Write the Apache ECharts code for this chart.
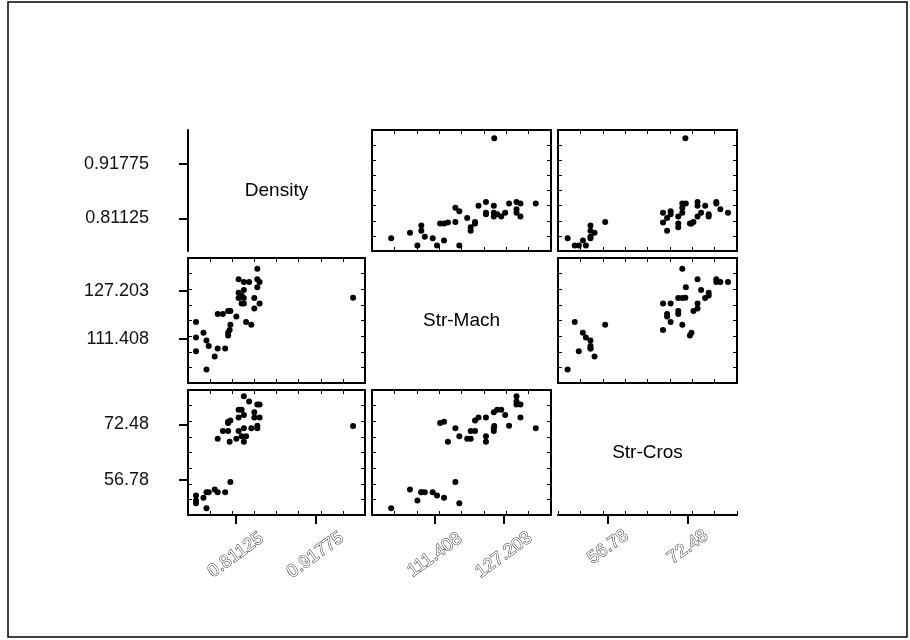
<!DOCTYPE html>
<html>
<head>
<meta charset="utf-8">
<script src="https://cdn.jsdelivr.net/npm/echarts@6/dist/echarts.min.js"></script>
<style>
  html, body { margin: 0; padding: 0; background: #fff; }
  #chart { width: 910px; height: 640px; }
</style>
</head>
<body>
<div id="chart"></div>
<script>
// names on the diagonal
const varNames = ['Density', 'Str-Mach', 'Str-Cros'];

// one value per sample (same order in every array)
const density = [
  0.772, 0.758, 0.804, 0.783, 0.758, 0.768, 0.758, 0.772, 0.775, 0.787, 0.797,
  0.787, 0.794, 0.801, 0.804, 0.812, 0.803, 0.801, 0.801, 0.815, 0.822, 0.829,
  0.840, 0.840, 0.843, 0.840, 0.815, 0.819, 0.815, 0.822, 0.822, 0.819, 0.822,
  0.836, 0.843, 0.836, 0.825, 0.832,
  0.968
];
const strMach = [
  101.4, 117.0, 116.1, 105.7, 107.4, 113.5, 111.9, 110.9, 109.1, 108.3, 108.3,
  119.6, 119.6, 120.6, 120.6, 118.8, 114.4, 113.5, 112.6, 131.0, 130.1, 130.1,
  134.5, 131.0, 130.1, 128.4, 126.6, 125.7, 124.9, 127.5, 124.9, 123.1, 123.1,
  124.9, 123.1, 121.4, 117.0, 116.1,
  125.0
];
const strCros = [
  48.8, 50.2, 56.2, 54.1, 51.0, 51.8, 52.4, 53.3, 53.3, 53.3, 53.3,
  68.4, 70.6, 70.6, 73.6, 68.4, 67.6, 73.2, 72.9, 74.4, 80.4, 78.9,
  71.4, 78.1, 78.1, 72.1, 76.6, 76.6, 70.6, 75.1, 71.4, 69.1, 67.6,
  75.9, 74.4, 74.4, 69.1, 71.4,
  72.0
];

// labelled ticks on the outer axes
const densityTicks = [0.81125, 0.91775];
const strMachTicks = [111.408, 127.203];
const strCrosTicks = [56.78, 72.48];

// cell layout (px)
const colLeft = [188, 372, 558];
const colWidth = [177, 179, 179];
const rowTop = [130, 258, 390];
const rowHeight = [121, 125, 125];

const fontFamily = '"Liberation Sans", Arial, Helvetica, sans-serif';

const vars = [
  { values: density, min: 0.7473, max: 0.984, ticks: densityTicks, margin: 40 },
  { values: strMach, min: 97, max: 138, ticks: strMachTicks, margin: 40 },
  { values: strCros, min: 46.9, max: 82.18, ticks: strCrosTicks, margin: 32 }
];

const grids = [], xAxes = [], yAxes = [], series = [], texts = [];

// small inward ticks on the edges of a box (own grid, 8 even steps)
// onZero must be off or the top/right axes jump to the zero side
function innerAxis(g, pos) {
  return {
    gridIndex: g, type: 'value', position: pos, min: 0, max: 8, interval: 1,
    axisLine: { show: false, onZero: false }, axisLabel: { show: false }, splitLine: { show: false },
    axisTick: { show: true, inside: true, length: 4, lineStyle: { color: '#000', width: 1 } }
  };
}
function innerTicks(r, c, bottomOnly) {
  const g = grids.length;
  grids.push({
    left: colLeft[c], top: rowTop[r], width: colWidth[c], height: rowHeight[r],
    show: false, outerBoundsMode: 'none'
  });
  xAxes.push(innerAxis(g, 'bottom'));
  if (bottomOnly) {
    yAxes.push({ gridIndex: g, type: 'value', show: false });
    return;
  }
  xAxes.push(innerAxis(g, 'top'));
  yAxes.push(innerAxis(g, 'left'), innerAxis(g, 'right'));
}

for (let r = 0; r < 3; r++) {
  for (let c = 0; c < 3; c++) {
    const diag = r === c;
    const bottom = r === 2;
    const left = c === 0;
    const g = grids.length;

    grids.push({
      left: colLeft[c], top: rowTop[r], width: colWidth[c], height: rowHeight[r],
      show: !diag, borderColor: '#000', borderWidth: 2,
      backgroundColor: 'transparent', outerBoundsMode: 'none'
    });

    const xi = xAxes.length;
    xAxes.push({
      gridIndex: g, type: 'value', min: vars[c].min, max: vars[c].max,
      show: bottom,
      splitLine: { show: false },
      axisLine: { show: diag, onZero: false, lineStyle: { color: '#000', width: 2 } },
      axisTick: { show: true, customValues: vars[c].ticks, length: 9, lineStyle: { color: '#000', width: 2 } },
      axisLabel: {
        show: true, customValues: vars[c].ticks, rotate: 36, margin: vars[c].margin,
        align: 'center', verticalAlign: 'middle',
        fontFamily: fontFamily, fontSize: 18,
        color: '#fff', textBorderColor: '#333', textBorderWidth: 1,
        formatter: v => String(v)
      }
    });

    const yi = yAxes.length;
    yAxes.push({
      gridIndex: g, type: 'value', min: vars[r].min, max: vars[r].max,
      show: left,
      splitLine: { show: false },
      axisLine: { show: diag, onZero: false, lineStyle: { color: '#000', width: 2 } },
      axisTick: { show: true, customValues: vars[r].ticks, length: 9, lineStyle: { color: '#000', width: 2 } },
      axisLabel: {
        show: true, customValues: vars[r].ticks, margin: 39,
        fontFamily: fontFamily, fontSize: 18, color: '#111',
        formatter: v => String(v)
      }
    });

    if (diag) {
      texts.push({
        type: 'text',
        x: colLeft[c] + colWidth[c] / 2,
        y: rowTop[r] + rowHeight[r] / 2,
        style: {
          text: varNames[r], fill: '#000',
          font: '19px ' + fontFamily,
          align: 'center', verticalAlign: 'middle'
        }
      });
      if (bottom) innerTicks(r, c, true);
    } else {
      series.push({
        type: 'scatter', xAxisIndex: xi, yAxisIndex: yi,
        symbolSize: 6, silent: true,
        itemStyle: { color: '#000', opacity: 1 },
        data: vars[c].values.map((v, k) => [v, vars[r].values[k]])
      });
      innerTicks(r, c, false);
    }
  }
}

// outer frame
texts.push({
  type: 'rect', z: 10,
  shape: { x: 8, y: 2, width: 899, height: 635 },
  style: { fill: 'none', stroke: '#000', lineWidth: 1.5 }
});

const chart = echarts.init(document.getElementById('chart'));
chart.setOption({
  animation: false,
  backgroundColor: '#fff',
  grid: grids,
  xAxis: xAxes,
  yAxis: yAxes,
  series: series,
  graphic: texts
});
</script>
</body>
</html>
